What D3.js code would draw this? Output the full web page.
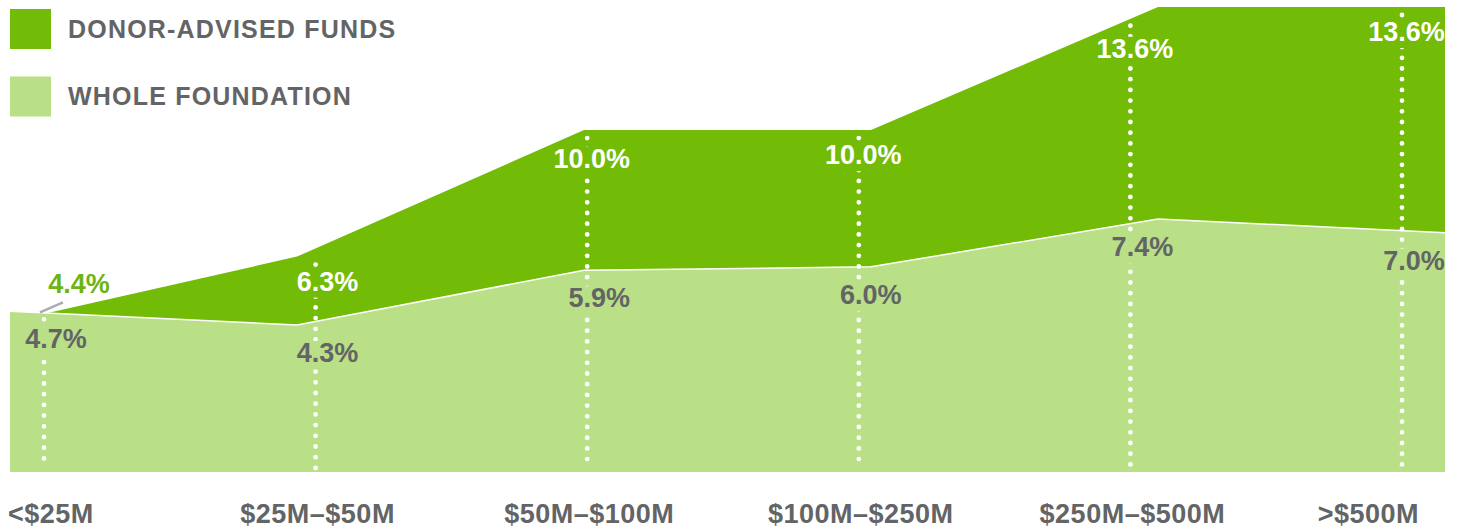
<!DOCTYPE html>
<html>
<head>
<meta charset="utf-8">
<script src="https://cdnjs.cloudflare.com/ajax/libs/d3/7.8.5/d3.min.js"></script>
<style>
  html, body { margin: 0; padding: 0; background: #fff; }
  svg { display: block; font-family: "Liberation Sans", Arial, sans-serif; font-weight: bold; }
</style>
</head>
<body>
<div class="gv-chart"></div>
<script>
// data
var categories = ["<$25M", "$25M–$50M", "$50M–$100M", "$100M–$250M", "$250M–$500M", ">$500M"];
var dafValues = [4.4, 6.3, 10.0, 10.0, 13.6, 13.6];
var wholeValues = [4.7, 4.3, 5.9, 6.0, 7.4, 7.0];
var seriesNames = ["DONOR-ADVISED FUNDS", "WHOLE FOUNDATION"];

var darkGreen = "#72bb06",
    lightGreen = "#b9df87",
    grey = "#636466",
    pickGreen = "#6cb512";

var width = 1459, height = 529;

var svg = d3.select(".gv-chart").append("svg")
    .attr("width", width).attr("height", height);

// areas run edge to edge, guides/labels sit a bit inside
var x = d3.scalePoint().domain(categories).range([10, 1445]);
var gx = d3.scalePoint().domain(categories).range([44, 1402]);
var y = d3.scaleLinear().domain([0, 13.6]).range([472, 7]);

// top edge of the dark area at any x
var darkTop = d3.scaleLinear()
    .domain(categories.map(function(c) { return x(c); }))
    .range(dafValues.map(function(v) { return y(v); }));

var area = d3.area()
    .x(function(d, i) { return x(categories[i]); })
    .y0(y(0))
    .y1(function(d) { return y(d); });

var topLine = d3.line()
    .x(function(d, i) { return x(categories[i]); })
    .y(function(d) { return y(d); });

svg.append("path").attr("d", area(dafValues)).attr("fill", darkGreen);
svg.append("path").attr("d", area(wholeValues)).attr("fill", lightGreen);
svg.append("path").attr("d", topLine(wholeValues))
    .attr("fill", "none").attr("stroke", "#fff").attr("stroke-width", 1.5);

var defs = svg.append("defs");
var mask = defs.append("mask").attr("id", "guide-mask").attr("maskUnits", "userSpaceOnUse")
    .attr("x", 0).attr("y", 0).attr("width", width).attr("height", height);
mask.append("rect").attr("width", width).attr("height", height).attr("fill", "#fff");

// dotted guides
var guides = svg.append("g").attr("mask", "url(#guide-mask)");
guides.selectAll("line")
    .data(categories)
    .enter().append("line")
    .attr("x1", function(c) { return gx(c); })
    .attr("x2", function(c) { return gx(c); })
    .attr("y1", function(c, i) { return y(Math.max(dafValues[i], wholeValues[i])) + 8; })
    .attr("y2", y(0) - 4)
    .attr("stroke", "#fff")
    .attr("stroke-width", 4.8)
    .attr("stroke-linecap", "round")
    .attr("stroke-dasharray", "0 10.7");

// value labels, lined up on the decimal point
var fontSize = 27, halfDot = 0.278 * fontSize / 2;

function valueLabel(g, cx, base, v, fill) {
  var s = v.toFixed(1) + "%";
  var k = s.indexOf(".");
  var t = g.append("g")
      .style("font-size", fontSize + "px")
      .attr("fill", fill);
  t.append("text").attr("x", cx - halfDot).attr("y", base)
      .attr("text-anchor", "end").text(s.slice(0, k));
  t.append("text").attr("x", cx - halfDot).attr("y", base)
      .attr("text-anchor", "start").text(s.slice(k));
  return t;
}

var labels = svg.append("g");
var labelGroups = [];
categories.forEach(function(c, i) {
  var cx = gx(c);
  labelGroups.push(valueLabel(labels, cx, y(wholeValues[i]) + 37, wholeValues[i], grey));
  if (dafValues[i] > wholeValues[i]) {
    var base = Math.max(darkTop(cx - 30) + 26, y(dafValues[i]) + 34);
    labelGroups.push(valueLabel(labels, cx, base, dafValues[i], "#fff"));
  } else {
    // hidden under the light area: pull it out above with a leader
    var yy = y(wholeValues[i]);
    labels.append("line")
        .attr("x1", cx - 4).attr("y1", yy + 1)
        .attr("x2", cx + 19).attr("y2", yy - 9)
        .attr("stroke", "#a9adb1").attr("stroke-width", 2.5);
    valueLabel(labels, cx + 23, yy - 18, dafValues[i], pickGreen);
  }
});

// cut the guides where a label sits
labelGroups.forEach(function(t) {
  var b = t.node().getBBox();
  mask.append("rect")
      .attr("x", b.x - 2).attr("y", b.y + 3)
      .attr("width", b.width + 4).attr("height", b.height - 2)
      .attr("fill", "#000");
});

// x labels
var last = categories.length - 1;
svg.append("g").selectAll("text")
    .data(categories)
    .enter().append("text")
    .attr("x", function(c, i) { return i === 0 ? x(c) - 2 : (i === last ? gx(c) + 17 : gx(c) + 2); })
    .attr("y", 523)
    .attr("text-anchor", function(c, i) { return i === 0 ? "start" : (i === last ? "end" : "middle"); })
    .attr("fill", grey)
    .style("font-size", "27px")
    .style("letter-spacing", "0.5px")
    .text(function(c) { return c; });

// legend
var legend = svg.append("g").selectAll("g")
    .data(seriesNames)
    .enter().append("g")
    .attr("transform", function(d, i) { return "translate(10," + (9 + i * 67.5) + ")"; });

legend.append("rect")
    .attr("width", 41).attr("height", 40)
    .attr("fill", function(d, i) { return i === 0 ? darkGreen : lightGreen; });

legend.append("text")
    .attr("x", 58).attr("y", 28.5)
    .attr("fill", grey)
    .style("font-size", "25px")
    .style("letter-spacing", "1.2px")
    .text(function(d) { return d; });
</script>
</body>
</html>
